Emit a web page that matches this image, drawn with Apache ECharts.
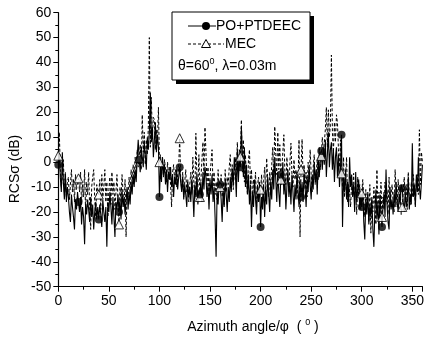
<!DOCTYPE html>
<html><head><meta charset="utf-8">
<script src="https://cdn.jsdelivr.net/npm/echarts@6/dist/echarts.min.js"></script>
<style>html,body{margin:0;padding:0;background:#fff;}#c{width:427px;height:340px;}</style>
</head><body><div id="c"></div>
<script>
// Azimuth step: 1 degree, 0..360
const xTicks = [0, 50, 100, 150, 200, 250, 300, 350];
const yTicks = [-50, -40, -30, -20, -10, 0, 10, 20, 30, 40, 50, 60];
const seriesNames = ['PO+PTDEEC', 'MEC'];
const markerStep = 20;

// PO+PTDEEC (solid) RCS in dB, deg 0..360
const poPtdeec = [
 -1, 3, -6, -12, 4, -8, -15, -5, -16, -10,
 -14, -20, -24, -13, -18, -22, -27, -15, -19, -12,
 -16, -20, -14, -25, -18, -22, -33, -17, -21, -15,
 -19, -24, -14, -22, -17, -27, -20, -16, -23, -18,
 -23, -17, -21, -26, -15, -20, -24, -18, -34, -16,
 -20, -12, -18, -25, -14, -22, -30, -16, -19, -13,
 -20, -15, -23, -11, -18, -14, -21, -16, -10, -19,
 -12, -17, -8, -13, -5, -10, -3, -8, 2, 9,
 1, -4, 6, 2, -2, 8, 3, -3, 10, 5,
 12, 28, 8, 14, 2, 9, 16, 4, 11, 6,
 -14, -2, -8, 2, -5, -1, -9, -3, -12, -4,
 -7, -2, -10, -5, -14, -6, -9, -3, -11, -6,
 -2, -8, -12, -6, -15, -9, -13, -18, -8, -14,
 -10, -16, -7, -12, -22, -9, -14, -5, -17, -11,
 -13, -8, -16, -4, -11, -2, -6, -14, -9, -19,
 -7, -13, -5, -16, -10, -22, -38, -12, -17, -8,
 -9, -15, -24, -11, -18, -7, -13, -20, -10, -16,
 -6, -12, -3, -9, 2, -4, -14, 5, -8, 1,
 -2, 14, 3, -6, 6, -10, -1, -13, -5, -17,
 -9, -26, -12, -18, -7, -15, -21, -10, -16, -8,
 -26, -14, -19, -9, -22, -11, -17, -6, -13, -20,
 -8, -15, -3, -11, 2, -7, -16, -4, -12, -18,
 -5, -9, 0, -13, -6, -19, -10, -3, -14, -8,
 -17, -5, -12, -20, -9, -15, -4, -11, -18, -7,
 -14, -8, -16, -3, -10, -18, -6, -12, -2, -9,
 -15, -5, -11, 0, -8, -3, -13, 2, -6, 1,
 4.5, -3, 6, -1, 9, -6, 3, 12, -2, 5,
 8, -3, 5, -8, 2, 6, -6, 3, -10, -2,
 11, -26, -6, -12, -3, -15, -8, -18, 2, -10,
 -5, -14, -9, -20, -4, -16, -11, -7, -19, -13,
 -18, -10, -24, -31, -15, -21, -12, -25, -17, -22,
 -14, -27, -34, -19, -11, -23, -16, -29, -13, -20,
 -26, -18, -12, -22, -3, -17, -24, -27, -10, -19,
 -15, -21, -12, -18, -8, -16, -20, -13, -17, -9,
 -10.5, -16, -20, -12, -18, -15, -6, -19, -13, -17,
 7.6, -14, -9, -18, -5, -12, 2, -10, -15, -8, -1
];

// MEC (dashed) RCS in dB, deg 0..360
const mec = [
 2.6, 12, -3, -10, -6, 1, -12, -4, -14, -8,
 -6, -15, -9, -3, -12, -7, -16, -5, -11, -8,
 -6.5, -12, -4, -17, -9, -14, -3, -20, -8, -13,
 -4, -18, -27, -10, -6, -3, -15, -22, -9, -12,
 -13, -7, -19, -5, -14, -10, -3, -16, -8, -22,
 -11, -6, -17, -4, -13, -8, -19, -12, -5, -15,
 -25, -10, -16, -5, -12, -18, -7, -30, -11, -14,
 -6, -13, -3, -9, -1, -7, 2, -4, 5, -2,
 1.7, 7, -3, 19, 4, 12, -1, 9, 3, 14,
 50, 6, 26, 10, 18, 17, 5, 13, 8, 22,
 0, 3, -4, 2, -6, 1, -3, -8, 0, -5,
 -2, -9, -18, -4, -1, -7, -3, -10, -5, -2,
 9.6, -6, -11, -4, -14, -8, -3, -12, -7, -16,
 -9, -4, -13, 2, -8, -15, 11.6, -6, -10, 3,
 -14, -7, 1, 8, -5, 14, 4, -9, -2, -12,
 -6, 0, 5, -10, -4, -13, -8, -15, -3, -11,
 -10, -5, -14, -8, -17, -3, -12, -6, -9, -2,
 3, -7, -1, -11, -4, 2, -6, 8, -3, 5,
 2.2, 17, -4, 9, -8, 3, -6, -13, 1, 5,
 -9, -3, -15, -7, -12, -4, -18, -9, -6, -14,
 -11, -5, -16, -8, -2, -12, 1.6, -7, -14, -4,
 -10, -1, 6, -6, 14.3, 3, -5, 12, -3, 7,
 -7, -2, 4, 11, -4, -9, 2, -6, -12, 0,
 7.6, -5, -10, 1, -7, -3, -13, -8, 9, -30,
 -3, 9.2, -6, -1, -11, -4, -14, 0, -8, 5,
 -5, -12, -2, 3, -9, -4, 1, -7, 6, -3,
 2.5, 10, 4, 8, 13, 22, 6, 21, 10, 15,
 43, 12, 4, 16, 8, 19, 15.7, 5, -2, 9,
 -4.5, -10, 2, -14, -6, 2, -16, -9, -12, -18,
 -8, -13, -4.5, -17, -10, -21, -6, -14, -9, -19,
 -12.5, -7, -16, -22, -11, -18, -13, -24, -9, -28.5,
 -15, -20, -10, -17, -25, -3, -19, -12, -23, -8,
 -22, -14, -19, -8, -16, -11, -21, -6, -18, -13,
 -9, -16, -20, -3, -12, -18, -7, -15, -10, -21,
 -18, -12, -6, -15, -9, -19, -4, -13, -17, -8,
 -14, -5, -11, -17, -7, -5, -13, 13, -9, 4, 0
];

const toPairs = arr => arr.map((v, i) => [i, v]);
const markers = arr => arr.map((v, i) => [i, v]).filter(p => p[0] % markerStep === 0 && p[0] < 360);

const FONT = 'Liberation Sans, Arial, sans-serif';
const chart = echarts.init(document.getElementById('c'), null, {renderer: 'canvas'});

const axisCommon = {
  axisLine: {show: true, onZero: false, lineStyle: {color: '#000', width: 1.2}},
  axisTick: {show: true, inside: false, length: 5, lineStyle: {color: '#000', width: 1}},
  minorTick: {show: true, splitNumber: 2, length: 3, lineStyle: {color: '#000', width: 1}},
  splitLine: {show: false},
  minorSplitLine: {show: false}
};

chart.setOption({
  animation: false,
  backgroundColor: '#fff',
  grid: {left: 58.3, top: 12.7, width: 370.4, height: 274, containLabel: false},
  xAxis: Object.assign({
    type: 'value', min: 0, max: 360, interval: 50,
    axisLabel: {color: '#000', fontFamily: FONT, fontSize: 14, margin: 7, showMaxLabel: false,
      formatter: v => (xTicks.indexOf(v) >= 0 ? String(v) : '')}
  }, axisCommon),
  yAxis: Object.assign({
    type: 'value', min: -50, max: 60, interval: 10,
    axisLabel: {color: '#000', fontFamily: FONT, fontSize: 14, margin: 7,
      formatter: v => (yTicks.indexOf(v) >= 0 ? String(v) : '')}
  }, axisCommon),
  series: [
    {name: seriesNames[1], type: 'line', data: toPairs(mec), showSymbol: false, symbol: 'none',
     lineStyle: {color: '#000', width: 1, type: [3, 2]}, z: 2},
    {name: seriesNames[0], type: 'line', data: toPairs(poPtdeec), showSymbol: false, symbol: 'none',
     lineStyle: {color: '#000', width: 1.1}, z: 3},
    {name: seriesNames[1] + ' markers', type: 'scatter', data: markers(mec), symbol: 'triangle', symbolSize: 9,
     itemStyle: {color: '#fff', borderColor: '#000', borderWidth: 1}, z: 4},
    {name: seriesNames[0] + ' markers', type: 'scatter', data: markers(poPtdeec), symbol: 'circle', symbolSize: 8,
     itemStyle: {color: '#000'}, z: 5}
  ],
  graphic: [
    // Y axis title
    {type: 'text', x: 15, y: 169, rotation: Math.PI / 2, originX: 0, originY: 0,
     style: {text: 'RCSσ (dB)', fontFamily: FONT, fontSize: 14, fill: '#000', align: 'center', verticalAlign: 'middle'}},
    // X axis title
    {type: 'text', x: 253, y: 327,
     style: {text: 'Azimuth angle/φ  ( {s|0} )', fontFamily: FONT, fontSize: 14, fill: '#000', align: 'center', verticalAlign: 'middle',
       rich: {s: {fontSize: 9, fontFamily: FONT, fill: '#000', verticalAlign: 'top', padding: [0, 0, 8, 0]}}}},
    // Legend box shadow
    {type: 'rect', shape: {x: 176, y: 16, width: 138, height: 68}, style: {fill: '#000'}, z: 100},
    {type: 'rect', shape: {x: 172, y: 12, width: 138, height: 68}, style: {fill: '#fff', stroke: '#000', lineWidth: 1}, z: 101},
    {type: 'line', shape: {x1: 188, y1: 26, x2: 216, y2: 26}, style: {stroke: '#000', lineWidth: 1}, z: 102},
    {type: 'circle', shape: {cx: 206, cy: 26, r: 4}, style: {fill: '#000'}, z: 103},
    {type: 'text', x: 216, y: 26, style: {text: seriesNames[0], fontFamily: FONT, fontSize: 14, fill: '#000', verticalAlign: 'middle'}, z: 103},
    {type: 'line', shape: {x1: 188, y1: 44, x2: 224, y2: 44}, style: {stroke: '#000', lineWidth: 1, lineDash: [3, 2]}, z: 102},
    {type: 'polygon', shape: {points: [[206, 39.5], [201.5, 47.5], [210.5, 47.5]]}, style: {fill: '#fff', stroke: '#000', lineWidth: 1}, z: 103},
    {type: 'text', x: 225, y: 44, style: {text: seriesNames[1], fontFamily: FONT, fontSize: 14, fill: '#000', verticalAlign: 'middle'}, z: 103},
    {type: 'text', x: 178, y: 66, style: {text: 'θ=60{s|0}, λ=0.03m', fontFamily: FONT, fontSize: 14, fill: '#000', verticalAlign: 'middle',
       rich: {s: {fontSize: 9, fontFamily: FONT, fill: '#000', padding: [0, 0, 8, 0]}}}, z: 103}
  ]
});
</script></body></html>
